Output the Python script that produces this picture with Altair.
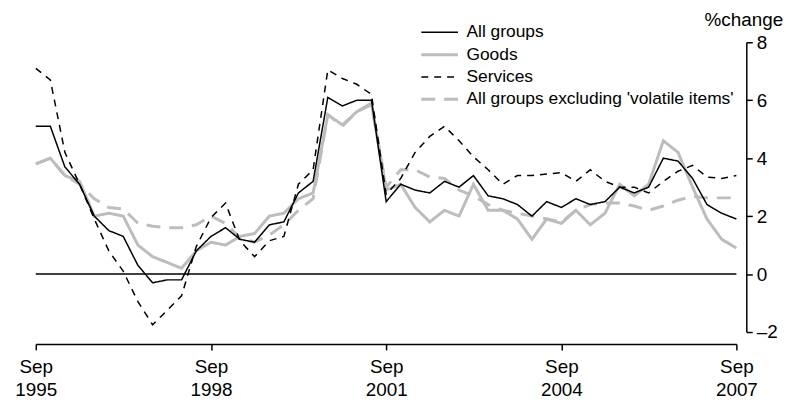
import altair as alt
import pandas as pd

# ---- data (annual % change, quarterly, Sep 1995 .. Sep 2007) ----
start_quarter = "1995-09-01"
n_quarters = 49

all_groups = [5.1, 5.1, 3.7, 3.1, 2.0, 1.5, 1.3, 0.3, -0.3, -0.2,
              -0.2, 0.8, 1.3, 1.6, 1.2, 1.1, 1.7, 1.8, 2.8, 3.2,
              6.1, 5.8, 6.0, 6.0, 2.5, 3.1, 2.9, 2.8, 3.2, 3.0,
              3.4, 2.7, 2.6, 2.4, 2.0, 2.5, 2.3, 2.6, 2.4, 2.5,
              3.0, 2.8, 3.0, 4.0, 3.9, 3.3, 2.4, 2.1, 1.9]
goods = [3.8, 4.0, 3.4, 3.2, 2.0, 2.1, 2.0, 1.0, 0.6, 0.4,
         0.2, 0.8, 1.1, 1.0, 1.3, 1.4, 2.0, 2.1, 2.6, 2.8,
         5.5, 5.15, 5.6, 5.9, 2.9, 3.1, 2.3, 1.8, 2.2, 2.0,
         3.1, 2.2, 2.2, 1.9, 1.2, 1.9, 1.75, 2.2, 1.7, 2.1,
         3.1, 2.7, 3.1, 4.6, 4.2, 3.0, 1.9, 1.2, 0.9]
services = [7.1, 6.7, 4.2, 3.1, 1.9, 0.8, 0.1, -0.95, -1.75, -1.25,
            -0.75, 0.95, 1.95, 2.45, 1.15, 0.6, 1.15, 1.3, 3.1, 3.6,
            7.05, 6.75, 6.55, 6.2, 2.75, 3.3, 4.2, 4.75, 5.1, 4.6,
            4.05, 3.6, 3.1, 3.4, 3.4, 3.45, 3.5, 3.2, 3.6, 3.2,
            3.0, 3.0, 2.8, 3.2, 3.55, 3.75, 3.35, 3.3, 3.4]
ex_volatile = [3.8, 4.0, 3.4, 3.1, 2.6, 2.3, 2.25, 1.75, 1.65, 1.6,
               1.6, 1.7, 2.0, 1.75, 1.25, 1.1, 1.35, 1.7, 2.2, 2.6,
               5.5, 5.1, 5.6, 5.85, 3.0, 3.6, 3.6, 3.35, 3.3, 2.9,
               2.7, 2.4, 2.2, 2.1, 2.0, 1.9, 1.8, 2.2, 2.4, 2.45,
               2.45, 2.35, 2.2, 2.35, 2.55, 2.68, 2.63, 2.63, 2.63]

series_names = ["All groups", "Goods", "Services",
                "All groups excluding 'volatile items'"]
series_values = [all_groups, goods, services, ex_volatile]
series_colors = ["#000000", "#bdbdbd", "#000000", "#bdbdbd"]
series_widths = [1.5, 3.0, 1.5, 3.0]
series_dashes = [[1, 0], [1, 0], [7, 6], [14, 9]]

tick_dates = ["1995-09-01", "1998-09-01", "2001-09-01", "2004-09-01", "2007-09-01"]
y_ticks = [-2, 0, 2, 4, 6, 8]

dates = pd.date_range(start=start_quarter, periods=n_quarters, freq="3MS")
rows = []
for name, vals in zip(series_names, series_values):
    for d, v in zip(dates, vals):
        rows.append({"date": d, "series": name, "value": v})
df = pd.DataFrame(rows)

FONT = "Liberation Sans"

x_enc = alt.X("date:T",
              scale=alt.Scale(domain=[tick_dates[0], tick_dates[-1]], nice=False),
              axis=alt.Axis(values=tick_dates,
                            labelExpr="[timeFormat(datum.value, '%b'), timeFormat(datum.value, '%Y')]",
                            title=None, grid=False, offset=12, tickSize=6,
                            domainColor="black", tickColor="black", domainWidth=1.5,
                            tickWidth=1.5, labelColor="black", labelFontSize=19,
                            labelFont=FONT, labelPadding=8, labelLineHeight=23,
                            labelFlush=False))
y_enc = alt.Y("value:Q",
              scale=alt.Scale(domain=[-2, 8], nice=False, zero=False),
              axis=alt.Axis(orient="right", values=y_ticks, offset=10,
                            grid=False, tickSize=6, domainColor="black",
                            tickColor="black", domainWidth=1.5, tickWidth=1.5,
                            labelColor="black", labelFontSize=19, labelFont=FONT,
                            labelPadding=4,
                            labelExpr="datum.value < 0 ? '\u2013' + abs(datum.value) : datum.label",
                            title="%change", titleAngle=0, titleFontSize=19,
                            titleFont=FONT, titleFontWeight="normal",
                            titleColor="black", titleAlign="center",
                            titleBaseline="alphabetic", titleX=-3, titleY=-17))

color_enc = alt.Color("series:N",
                      scale=alt.Scale(domain=series_names, range=series_colors),
                      legend=alt.Legend(title=None, orient="none", legendX=387,
                                        legendY=-18.5, symbolType="stroke",
                                        symbolSize=1369, labelFontSize=17.5,
                                        labelFont=FONT, labelColor="black",
                                        rowPadding=4.5, clipHeight=17,
                                        labelOffset=7, labelLimit=400))
dash_enc = alt.StrokeDash("series:N",
                          scale=alt.Scale(domain=series_names, range=series_dashes),
                          legend=alt.Legend(title=None, orient="none"))
width_enc = alt.StrokeWidth("series:N",
                            scale=alt.Scale(type="ordinal", domain=series_names,
                                            range=series_widths),
                            legend=alt.Legend(title=None, orient="none"))

base = alt.Chart(df).mark_line(strokeCap="butt", strokeJoin="miter").encode(
    x=x_enc, y=y_enc, color=color_enc, strokeDash=dash_enc, strokeWidth=width_enc
)

draw_order = [series_names[1], series_names[3], series_names[2], series_names[0]]
layers = [base.transform_filter(alt.datum.series == s) for s in draw_order]

zero = alt.Chart(pd.DataFrame({"v": [0]})).mark_rule(color="black", strokeWidth=1.5).encode(
    y=alt.Y("v:Q")
)

chart = alt.layer(zero, *layers).properties(
    width=706, height=292,
    autosize=alt.AutoSizeParams(type="none"),
    padding={"left": 28, "top": 33, "right": 50, "bottom": 72},
).configure_view(stroke=None)

chart.save("out.html", embed_options={"renderer": "svg", "actions": False})
